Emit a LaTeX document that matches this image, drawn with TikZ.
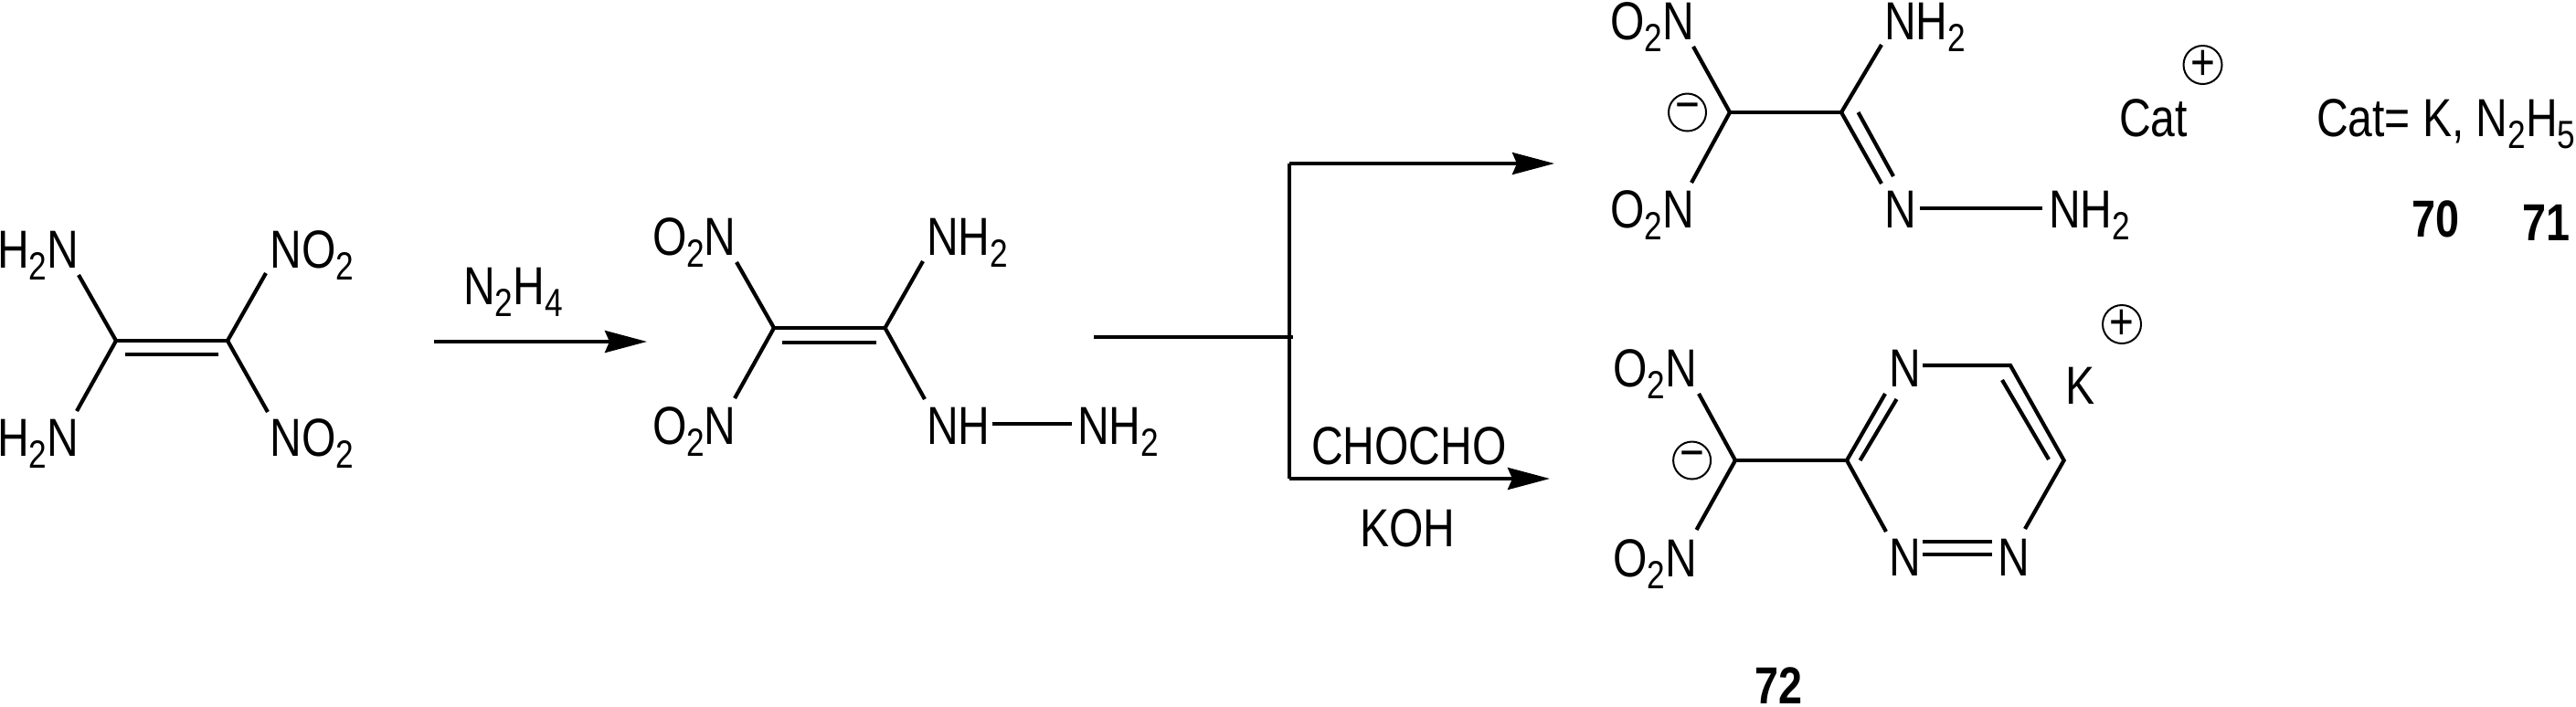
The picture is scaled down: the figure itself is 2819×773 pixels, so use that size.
\documentclass[tikz,border=0pt]{standalone}
\usepackage{fontspec}
\setmainfont[FakeStretch=0.82]{Liberation Sans}
\usetikzlibrary{arrows.meta}
\newcommand{\sbs}[1]{\raisebox{-6.5pt}{\fontsize{21.5}{21.5}\selectfont #1}}
\tikzset{
  lbl/.style={anchor=base west,inner sep=0pt,outer sep=0pt,xshift=-1.5pt,font=\fontsize{29.3}{30}\selectfont},
  cpd/.style={lbl,font=\fontsize{28.5}{30}\selectfont\bfseries},
  bond/.style={line width=2.1pt},
  bondthin/.style={line width=1.8pt},
  arr/.style={line width=2pt,-{Stealth[length=23pt,width=12pt,inset=2.5pt]}},
  chg/.style={circle,draw,line width=1pt,minimum size=20.5pt,inner sep=0pt,font=\fontsize{28}{28}\selectfont}
}
\begin{document}
\begin{tikzpicture}[x=0.5pt,y=-0.5pt]
\useasboundingbox (0,0) rectangle (2819,773);
% molecule 1
\coordinate (a1) at (127,373); \coordinate (a2) at (249,373);
\coordinate (a3) at (137,388); \coordinate (a4) at (239,388);
\coordinate (a5) at (86,301); \coordinate (a6) at (84,450);
\coordinate (a7) at (291,299); \coordinate (a8) at (293,451);
\node[lbl] (t1) at (0,293) {H\sbs{2}N};
\node[lbl] (t2) at (298.5,293) {NO\sbs{2}};
\node[lbl] (t3) at (0,499) {H\sbs{2}N};
\node[lbl] (t4) at (298.5,499) {NO\sbs{2}};
\draw[bond] (a1)--(a2); \draw[bond] (a3)--(a4);
\draw[bond] (a1)--(a5); \draw[bond] (a1)--(a6);
\draw[bond] (a2)--(a7); \draw[bond] (a2)--(a8);
% arrow 1
\coordinate (r1) at (475,374); \coordinate (r2) at (708,374);
\draw[arr] (r1)--(r2);
\node[lbl] (t5) at (510,333) {N\sbs{2}H\sbs{4}};
% molecule 2
\coordinate (b1) at (847,359); \coordinate (b2) at (968.5,359);
\coordinate (b3) at (856,375); \coordinate (b4) at (959,375);
\coordinate (b5) at (806,287); \coordinate (b6) at (804,436);
\coordinate (b7) at (1010,286); \coordinate (b8) at (1012,437);
\coordinate (b9) at (1086,464); \coordinate (b10) at (1173,464);
\node[lbl] (t6) at (717,279) {O\sbs{2}N};
\node[lbl] (t7) at (1017,279) {NH\sbs{2}};
\node[lbl] (t8) at (717,486) {O\sbs{2}N};
\node[lbl] (t9) at (1017,486) {NH};
\node[lbl] (t10) at (1182,486) {NH\sbs{2}};
\draw[bond] (b1)--(b2); \draw[bond] (b3)--(b4);
\draw[bond] (b1)--(b5); \draw[bond] (b1)--(b6);
\draw[bond] (b2)--(b7); \draw[bond] (b2)--(b8);
\draw[bond] (b9)--(b10);
% branch
\coordinate (s1) at (1197,369); \coordinate (s2) at (1415,369);
\coordinate (s3) at (1411,179); \coordinate (s4) at (1411,524);
\coordinate (s5) at (1701,179); \coordinate (s6) at (1696,524);
\draw[bond] (s1)--(s2);
\draw[bondthin] (s3)--(s4);
\draw[arr] (s3)--(s5);
\draw[arr] (s4)--(s6);
\node[lbl] (t11) at (1438,508) {CHOCHO};
\node[lbl] (t12) at (1491,598) {KOH};
% molecule 70/71
\coordinate (c1) at (1893,123); \coordinate (c2) at (2015,123);
\coordinate (c3) at (1853,51); \coordinate (c4) at (1851,200);
\coordinate (c5) at (2059,49); \coordinate (c6) at (2059,201);
\coordinate (c7) at (2033.5,123); \coordinate (c8) at (2072,193);
\coordinate (c9) at (2101,228); \coordinate (c10) at (2235,228);
\node[lbl] (t13) at (1765,43) {O\sbs{2}N};
\node[lbl] (t14) at (2065,43) {NH\sbs{2}};
\node[lbl] (t15) at (1765,249) {O\sbs{2}N};
\node[lbl] (t16) at (2065,249) {N};
\node[lbl] (t17) at (2245,249) {NH\sbs{2}};
\draw[bond] (c1)--(c2);
\draw[bond] (c1)--(c3); \draw[bond] (c1)--(c4);
\draw[bond] (c2)--(c5); \draw[bond] (c2)--(c6);
\draw[bond] (c7)--(c8); \draw[bond] (c9)--(c10);
\node[chg] (q1) at (1846.5,123) {−};
\node[chg] (q2) at (2410.5,71) {+};
\node[lbl] (t18) at (2322,149) {Cat};
\node[lbl] (t19) at (2538,149) {Cat= K, N\sbs{2}H\sbs{5}};
\node[cpd] (t20) at (2642,259) {70};
\node[cpd] (t21) at (2763,263) {71};
% molecule 72
\coordinate (d1) at (1899,504); \coordinate (d2) at (2021,504);
\coordinate (d3) at (1859,431); \coordinate (d4) at (1856.5,580);
\coordinate (d5) at (2063,431); \coordinate (d6) at (2035.5,504);
\coordinate (d7) at (2075.5,437); \coordinate (d8) at (2064,582);
\coordinate (d9) at (2104,400); \coordinate (d10) at (2200,400);
\coordinate (d11) at (2258.6,504); \coordinate (d12) at (2191,416);
\coordinate (d13) at (2242,503); \coordinate (d14) at (2216,579);
\coordinate (d15) at (2104,593); \coordinate (d16) at (2180,593);
\coordinate (d17) at (2104,607); \coordinate (d18) at (2180,607);
\node[lbl] (t22) at (1768,423) {O\sbs{2}N};
\node[lbl] (t23) at (1768,631) {O\sbs{2}N};
\node[lbl] (t24) at (2070.5,423) {N};
\node[lbl] (t25) at (2070.5,630) {N};
\node[lbl] (t26) at (2189,630) {N};
\node[lbl] (t27) at (2263,442) {K};
\draw[bond] (d1)--(d2);
\draw[bond] (d1)--(d3); \draw[bond] (d1)--(d4);
\draw[bond] (d2)--(d5); \draw[bond] (d6)--(d7);
\draw[bond] (d2)--(d8);
\draw[bond,line join=miter] (d9)--(d10)--(d11)--(d14);
\draw[bond] (d12)--(d13);
\draw[bond] (d15)--(d16); \draw[bond] (d17)--(d18);
\node[chg] (q3) at (1851.6,504) {−};
\node[chg] (q4) at (2322,355) {+};
\node[cpd] (t28) at (1923,770) {72};
\end{tikzpicture}
\end{document}
